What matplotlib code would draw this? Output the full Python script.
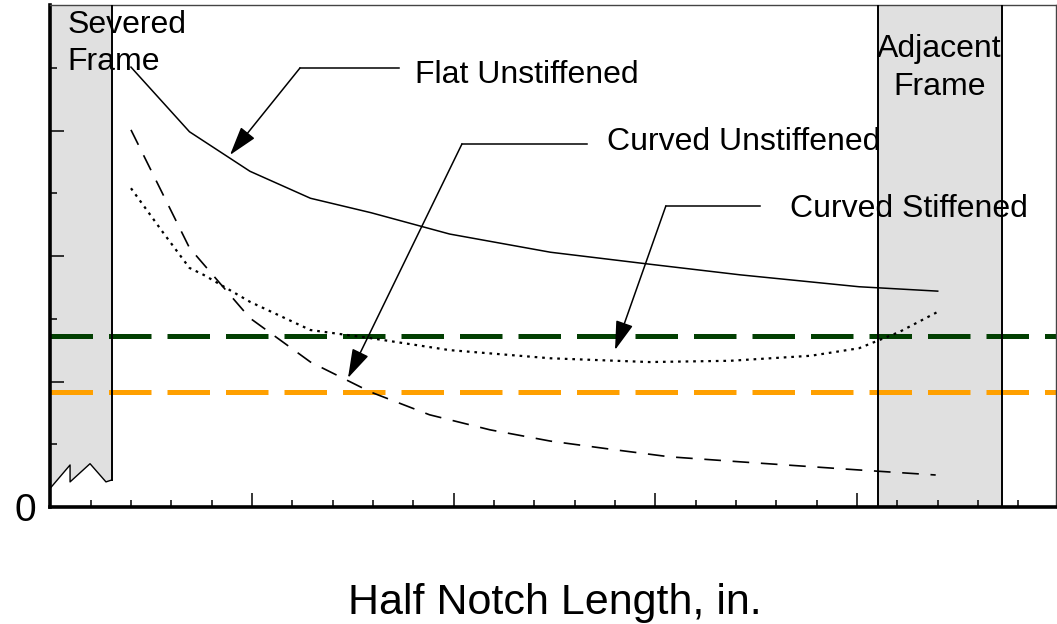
import numpy as np
import matplotlib
matplotlib.use("Agg")
import matplotlib.pyplot as plt
from matplotlib.ticker import MultipleLocator, FixedLocator

plt.rcParams['font.family'] = ['Liberation Sans', 'DejaVu Sans']

# curve data (half notch length, in. vs. response)
x_flat = [0.40, 0.69, 0.99, 1.29, 1.59, 1.98, 2.48, 2.97, 3.42, 4.01, 4.40]
y_flat = [7.01, 5.98, 5.35, 4.92, 4.69, 4.35, 4.06, 3.87, 3.70, 3.51, 3.44]

x_curved_unstiff = [0.40, 0.69, 0.99, 1.29, 1.59, 1.88, 2.18, 2.48, 2.78, 3.07, 3.42, 4.01, 4.39]
y_curved_unstiff = [6.01, 4.13, 3.01, 2.31, 1.83, 1.47, 1.23, 1.05, 0.92, 0.80, 0.72, 0.59, 0.51]

x_curved_stiff = [0.40, 0.56, 0.69, 0.76, 0.99, 1.29, 1.59, 1.98, 2.48, 2.97, 3.37, 3.77, 4.01, 4.21, 4.40]
y_curved_stiff = [5.08, 4.37, 3.81, 3.70, 3.27, 2.82, 2.69, 2.50, 2.37, 2.31, 2.33, 2.41, 2.53, 2.79, 3.11]

# reference levels
level_green = 2.72
level_orange = 1.84

# frame regions
severed_x = [0.0, 0.304]
adjacent_x = [4.102, 4.717]
zig_x = [0.304, 0.276, 0.197, 0.098, 0.098, 0.0]
zig_y = [0.43, 0.40, 0.69, 0.40, 0.67, 0.30]

XMAX, YMAX = 4.984, 8.0

fig = plt.figure(figsize=(10.57, 6.24), dpi=100)
ax = fig.add_axes([50.3 / 1057, 1 - 507 / 624, (1055.5 - 50.3) / 1057, 502 / 624])
ax.set_xlim(0, XMAX)
ax.set_ylim(0, YMAX)

gray = '#e0e0e0'
# severed frame (with broken bottom edge)
poly_x = [severed_x[0], severed_x[1]] + zig_x
poly_y = [YMAX, YMAX] + zig_y
ax.fill(poly_x, poly_y, color=gray, lw=0, zorder=0.5)
ax.plot([severed_x[1], severed_x[1]], [YMAX, zig_y[0]], color='black', lw=1.4, zorder=4)
ax.plot(zig_x, zig_y, color='black', lw=1.0, zorder=4)

# adjacent frame
ax.axvspan(adjacent_x[0], adjacent_x[1], color=gray, lw=0, zorder=0.5)
for xv in adjacent_x:
    ax.axvline(xv, color='black', lw=1.4, zorder=4)

# reference lines
ax.axhline(level_green, color='#023f02', lw=3.6, ls=(0, (8.5, 3.2)), zorder=2)
ax.axhline(level_orange, color='#ffa000', lw=3.6, ls=(0, (8.5, 3.2)), zorder=2)

# curves
ax.plot(x_flat, y_flat, color='black', lw=1.1, zorder=3)
ax.plot(x_curved_unstiff, y_curved_unstiff, color='black', lw=1.2, ls=(0, (10, 7)), zorder=3)
ax.plot(x_curved_stiff, y_curved_stiff, color='black', lw=1.6, ls=(0, (1.2, 2.2)), zorder=3)

# annotations: (text pos, elbow start, elbow corner, arrow tip)
notes = [
    ("Flat Unstiffened", (1.808, 6.757), (1.729, 6.996), (1.238, 6.996), (0.891, 5.610)),
    ("Curved Unstiffened", (2.760, 5.689), (2.660, 5.785), (2.041, 5.785), (1.476, 2.056)),
    ("Curved Stiffened", (3.667, 4.622), (3.519, 4.797), (3.052, 4.797), (2.800, 2.502)),
]
for label, tpos, p0, p1, tip in notes:
    ax.text(tpos[0], tpos[1], label, fontsize=23, ha='left', va='baseline', zorder=5)
    ax.plot([p0[0], p1[0]], [p0[1], p1[1]], color='black', lw=1.1, zorder=5)
    ax.annotate("", xy=tip, xytext=p1,
                arrowprops=dict(arrowstyle='-|>,head_length=1.8,head_width=0.55',
                                mutation_scale=10, color='black', lw=1.1,
                                shrinkA=0, shrinkB=0), zorder=5)

ax.text(0.084, 6.96, "Severed\nFrame", fontsize=23, ha='left', va='baseline',
        linespacing=1.32, zorder=5)
ax.text((adjacent_x[0] + adjacent_x[1]) / 2, 6.57, "Adjacent\nFrame", fontsize=23,
        ha='center', va='baseline', linespacing=1.32, zorder=5)

# spines and ticks
for s in ['left', 'bottom']:
    ax.spines[s].set_linewidth(2.6)
for s in ['top', 'right']:
    ax.spines[s].set_linewidth(1.0)
    ax.spines[s].set_color('#444444')

ax.xaxis.set_major_locator(MultipleLocator(1))
ax.xaxis.set_minor_locator(MultipleLocator(0.2))
ax.set_xticklabels([])
ax.yaxis.set_major_locator(FixedLocator([0, 2, 4, 6]))
ax.yaxis.set_minor_locator(FixedLocator([1, 3, 5, 7]))
ax.set_yticklabels(['0', '', '', ''])
ax.tick_params(which='major', direction='in', length=10, width=1.1, labelsize=28, pad=10)
ax.tick_params(which='minor', direction='in', length=5, width=1.1)
ax.tick_params(top=False, right=False)

fig.text(555 / 1057, 1 - 614 / 624, "Half Notch Length, in.", fontsize=31,
         ha='center', va='baseline')

fig.savefig("out.png", dpi=100)
